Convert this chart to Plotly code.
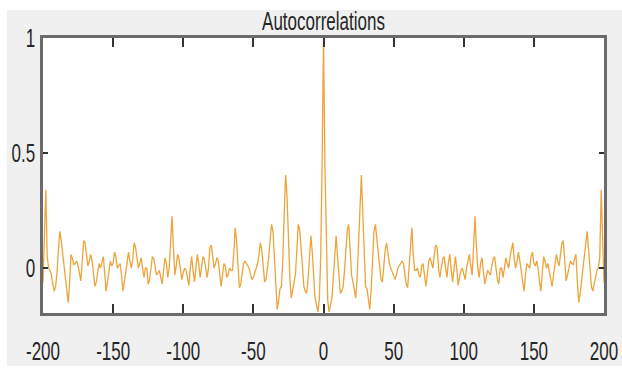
import plotly.graph_objects as go

# Autocorrelation values for lags 0..200 (the function is symmetric)
acf_right = [
    1.0, 0.45, 0.05, -0.14, -0.19, -0.16, -0.13, -0.04, 0.07, 0.14,
    0.05, -0.05, -0.11, -0.10, -0.08, -0.01, 0.09, 0.17, 0.19, 0.08,
    -0.03, -0.06, -0.10, -0.13, -0.04, 0.13, 0.31, 0.405, 0.24, 0.04,
    -0.08, -0.09, -0.14, -0.18, -0.09, 0.06, 0.16, 0.19, 0.13, 0.05,
    -0.01, -0.05, -0.06, 0.01, 0.08, 0.11, 0.06, 0.02, 0.0, -0.02,
    -0.04, -0.05, -0.03, 0.0, 0.01, 0.02, 0.03, 0.02, -0.03, -0.07,
    -0.085, 0.01, 0.12, 0.175, 0.06, -0.01, -0.01, 0.0, -0.03, -0.04,
    0.01, 0.02, -0.03, -0.08, -0.03, 0.03, 0.045, 0.02, 0.0, 0.06,
    0.10, 0.09, 0.0, -0.04, 0.0, 0.04, 0.05, 0.0, -0.04, 0.02,
    0.06, 0.0, -0.06, -0.01, 0.05, 0.0, -0.075, -0.04, -0.01, 0.0,
    -0.02, -0.05, 0.0, 0.04, 0.06, 0.01, -0.03, 0.09, 0.225, 0.10,
    0.0, -0.04, 0.02, 0.045, -0.01, -0.07, -0.04, -0.01, -0.02, -0.03,
    0.01, 0.04, 0.05, 0.0, -0.05, -0.07, 0.0, 0.0, -0.04, 0.0,
    0.045, 0.02, 0.0, 0.05, 0.09, 0.11, 0.04, 0.0, 0.03, 0.07,
    0.03, -0.01, -0.06, -0.10, -0.03, 0.02, 0.01, 0.0, 0.05, 0.07,
    0.02, 0.01, 0.03, 0.0, -0.06, -0.10, -0.02, 0.05, 0.03, 0.0,
    0.02, -0.02, -0.06, -0.08, -0.03, 0.03, 0.06, 0.03, 0.01, 0.06,
    0.11, 0.12, 0.03, -0.055, -0.03, 0.01, 0.03, 0.02, 0.015, 0.04,
    0.06, -0.06, -0.15, -0.11, -0.05, 0.0, 0.06, 0.12, 0.16, 0.08,
    -0.02, -0.08, -0.10, -0.07, -0.03, -0.01, 0.0, 0.05, 0.34, 0.12,
    -0.065,
]
max_lag = 200
lags = list(range(-max_lag, max_lag + 1))
acf = acf_right[:0:-1] + acf_right

x_ticks = [-200, -150, -100, -50, 0, 50, 100, 150, 200]
x_labels = ["-200", "-150", "-100", "-50", "0", "50", "100", "150", "200"]
y_ticks = [0, 0.5, 1]
y_labels = ["0", "0.5", "1"]

FONT = "Liberation Sans, Arial, Helvetica, sans-serif"
FS = 25
W, H = 622, 373
L, R, T, B = 43, 18, 38, 60
pw, ph = W - L - R, H - T - B


def px_x(p):
    return (p - L) / pw


def px_y(p):
    return (H - B - p) / ph


fig = go.Figure(
    go.Scatter(x=lags, y=acf, mode="lines",
               line=dict(color="#EDA43A", width=1.3),
               hoverinfo="x+y")
)

# thin white border around the grey figure background
white = dict(type="rect", xref="paper", yref="paper", fillcolor="white",
             line=dict(width=0), layer="below")
fig.add_shape(**white, x0=px_x(0), x1=px_x(7), y0=px_y(H), y1=px_y(0))
fig.add_shape(**white, x0=px_x(0), x1=px_x(W), y0=px_y(10), y1=px_y(0))
fig.add_shape(**white, x0=px_x(0), x1=px_x(W), y0=px_y(H), y1=px_y(366))

fig.update_layout(
    width=W, height=H,
    margin=dict(l=L, r=R, t=T, b=B),
    paper_bgcolor="#f0f0f0",
    plot_bgcolor="white",
    showlegend=False,
    title=dict(text="Autocorrelations", x=0.5, xref="paper", xanchor="center",
               y=1 - 21 / H, yref="container", yanchor="middle",
               font=dict(family=FONT, size=FS, color="#262626")),
)
fig.update_xaxes(
    range=[-200, 200], tickvals=x_ticks, ticktext=x_labels,
    ticks="inside", ticklen=9, tickwidth=1.5, tickcolor="#333333",
    showline=True, linecolor="#6b6b6b", linewidth=2.5, mirror="ticks",
    showgrid=False, zeroline=False, automargin=False,
    tickfont=dict(family=FONT, size=FS, color="#262626"),
    ticklabelstandoff=14, ticklabeloverflow="allow",
)
fig.update_yaxes(
    range=[-0.195, 1], tickvals=y_ticks, ticktext=y_labels,
    ticks="inside", ticklen=5, tickwidth=1.5, tickcolor="#333333",
    showline=True, linecolor="#6b6b6b", linewidth=2.5, mirror="ticks",
    showgrid=False, zeroline=False, automargin=False,
    tickfont=dict(family=FONT, size=FS, color="#262626"),
    ticklabelstandoff=0, ticklabeloverflow="allow",
)

# page without margins; horizontally condense the (real) text like the narrow original lettering
post = """
document.documentElement.style.margin = '0';
document.body.style.margin = '0';
document.body.style.padding = '0';
document.body.style.overflow = 'hidden';
var gd = document.getElementById('{plot_id}');
function squeeze() {
  gd.querySelectorAll('text').forEach(function (t) {
    var s = t.textContent;
    if (!s || t.getAttribute('data-sq') === s) return;
    t.removeAttribute('textLength');
    var w = t.getComputedTextLength();
    if (w > 0) {
      t.setAttribute('textLength', (w * 0.68).toFixed(2));
      t.setAttribute('lengthAdjust', 'spacingAndGlyphs');
      t.setAttribute('data-sq', s);
    }
  });
}
squeeze();
gd.on('plotly_afterplot', squeeze);
"""

fig.write_html("out.html", post_script=post, config={"displayModeBar": False})
